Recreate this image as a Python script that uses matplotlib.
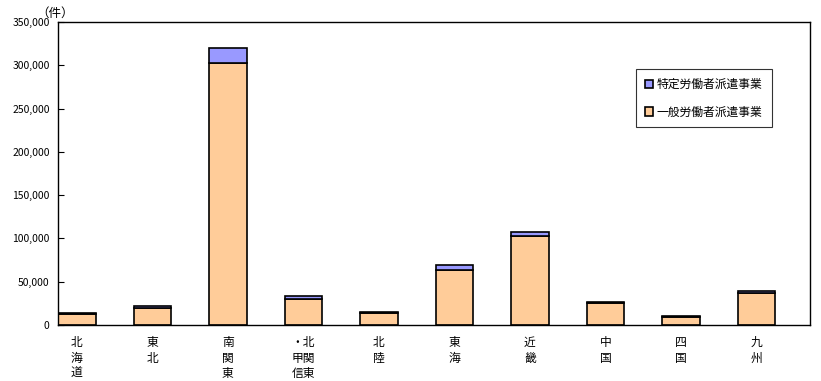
import numpy as np
import matplotlib.pyplot as plt

plt.rcParams['font.family'] = ['Noto Sans CJK JP', 'DejaVu Sans']

regions = ["北\n海\n道", "東\n北", "南\n関\n東", "・北\n甲関\n信東", "北\n陸",
           "東\n海", "近\n畿", "中\n国", "四\n国", "九\n州"]
general = [12500, 19500, 303000, 30000, 13500, 63500, 102500, 25000, 9000, 36500]
specific = [1000, 2300, 17500, 3500, 1200, 5500, 5500, 1200, 1000, 2800]

fig = plt.figure(figsize=(8.21, 3.81), dpi=100)
ax = fig.add_axes([58/821, 56/381, 752/821, 303/381])

x = np.arange(len(regions))
ax.bar(x, general, width=0.5, color="#FFCC99", edgecolor="black", linewidth=1.2,
       label="一般労働者派遣事業", zorder=2)
ax.bar(x, specific, width=0.5, bottom=general, color="#9999FF", edgecolor="black",
       linewidth=1.2, label="特定労働者派遣事業", zorder=2)

ax.set_xlim(-0.25, 9.71)
ax.set_ylim(0, 350000)
ax.set_yticks(np.arange(0, 350001, 50000))
ax.set_yticklabels([f"{v:,}" for v in range(0, 350001, 50000)], fontsize=7.5)
ax.tick_params(axis="y", direction="in", length=4, pad=6)
ax.set_xticks(x)
ax.set_xticklabels(regions, fontsize=8.5, linespacing=1.25, va="top")
ax.tick_params(axis="x", length=0, pad=8)
for s in ax.spines.values():
    s.set_linewidth(1.0)

fig.text(36/821, 1 - 13/381, "（件）", fontsize=9, va="center", ha="left")

h, l = ax.get_legend_handles_labels()
leg = ax.legend(h[::-1], l[::-1], loc="upper left", bbox_to_anchor=(0.769, 0.845),
                fontsize=8.5, frameon=True, fancybox=False, edgecolor="black",
                handlelength=0.7, handleheight=0.7, handletextpad=0.3,
                labelspacing=1.25, borderpad=0.75, borderaxespad=0)
leg.get_frame().set_linewidth(0.8)

fig.savefig("out.png", dpi=100)
